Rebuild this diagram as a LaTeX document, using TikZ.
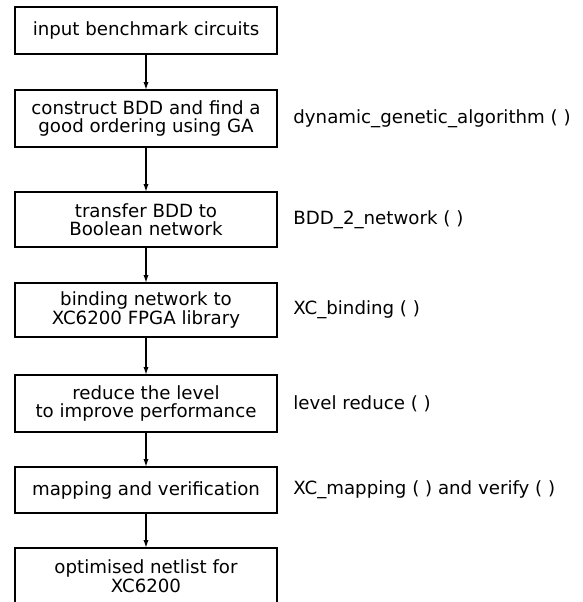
\documentclass[tikz,border=0pt]{standalone}
\usepackage{fontspec}
\setmainfont{DejaVu Sans}
\usetikzlibrary{positioning, arrows.meta}

\begin{document}
\begin{tikzpicture}[
    x=0.5pt, y=-0.5pt,
    every node/.style={font=\fontsize{9.1}{9.2}\selectfont},
    stage/.style={draw, line width=0.9pt, align=center, outer sep=0pt,
                  minimum width=131pt, inner sep=2pt},
    call/.style={anchor=west, inner sep=3pt},
    flow/.style={-{Latex[length=4pt, width=2.6pt]}, line width=0.7pt},
  ]
    \clip (0,0) rectangle (583,602);
    % flow of stages
    \node[stage, minimum height=23.5pt] (s1) at (146,30.5)
      {input benchmark circuits};
    \node[stage, minimum height=28.5pt, below=18pt of s1] (s2)
      {construct BDD and find a\\ good ordering using GA};
    \node[stage, minimum height=27.5pt, below=22.5pt of s2] (s3)
      {transfer BDD to\\ Boolean network};
    \node[stage, minimum height=27pt, below=18pt of s3] (s4)
      {binding network to\\ XC6200 FPGA library};
    \node[stage, minimum height=28.5pt, below=19pt of s4] (s5)
      {reduce the level\\ to improve performance};
    \node[stage, minimum height=23pt, below=17.5pt of s5] (s6)
      {mapping and verification};
    \node[stage, inner ysep=6pt, below=17.5pt of s6] (s7)
      {optimised netlist for\\ XC6200};

    % routine names
    \node[call, right=5pt of s2] (c2) {dynamic\_genetic\_algorithm ( )};
    \node[call, right=5pt of s3] (c3) {BDD\_2\_network ( )};
    \node[call, right=5pt of s4] (c4) {XC\_binding ( )};
    \node[call, right=5pt of s5] (c5) {level  reduce ( )};
    \node[call, right=5pt of s6] (c6) {XC\_mapping ( ) and verify ( )};

    % arrows
    \foreach \a/\b in {s1/s2, s2/s3, s3/s4, s4/s5, s5/s6, s6/s7}
      \draw[flow] (\a) -- (\b);
  \end{tikzpicture}
\end{document}
